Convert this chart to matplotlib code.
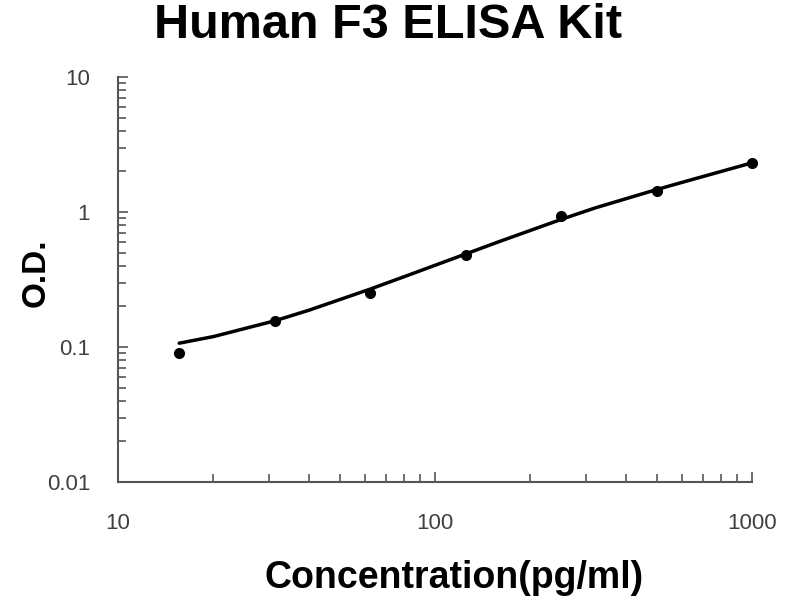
import numpy as np
import matplotlib
matplotlib.use("Agg")
import matplotlib.pyplot as plt
from matplotlib.ticker import LogLocator, FixedFormatter, FixedLocator, NullFormatter

# measured standards (dots)
conc = [15.6, 31.25, 62.5, 125, 250, 500, 1000]
od = [0.090, 0.156, 0.252, 0.484, 0.94, 1.44, 2.30]

# standard curve
curve_conc = [15.6, 20, 31.25, 40, 62.5, 80, 125, 160, 250, 320, 500, 640, 1000]
curve_od = [0.1067, 0.1194, 0.1563, 0.1871, 0.2685, 0.3319, 0.4887, 0.6053,
            0.881, 1.0715, 1.4655, 1.7258, 2.312]

x_ticks = [10, 100, 1000]
x_labels = ['10', '100', '1000']
y_ticks = [0.01, 0.1, 1, 10]
y_labels = ['0.01', '0.1', '1', '10']

fig = plt.figure(figsize=(8, 6), dpi=100)
ax = fig.add_axes([0.1475, 0.1967, 0.7925, 0.675])

ax.plot(curve_conc, curve_od, color='black', lw=2.5, clip_on=False,
        solid_joinstyle='round', solid_capstyle='round')
ax.plot(conc, od, 'o', color='black', ms=7, clip_on=False)

ax.set_xscale('log')
ax.set_yscale('log')
ax.set_xlim(10, 1000)
ax.set_ylim(0.01, 10)

for s in ['top', 'right']:
    ax.spines[s].set_visible(False)
for s in ['left', 'bottom']:
    ax.spines[s].set_color('#555555')
    ax.spines[s].set_linewidth(1.5)

ax.xaxis.set_major_locator(FixedLocator(x_ticks))
ax.xaxis.set_major_formatter(FixedFormatter(x_labels))
ax.yaxis.set_major_locator(FixedLocator(y_ticks))
ax.yaxis.set_major_formatter(FixedFormatter(y_labels))
ax.xaxis.set_minor_locator(LogLocator(base=10, subs=np.arange(2, 10)))
ax.yaxis.set_minor_locator(LogLocator(base=10, subs=np.arange(2, 10)))
ax.xaxis.set_minor_formatter(NullFormatter())
ax.yaxis.set_minor_formatter(NullFormatter())
ax.tick_params(which='both', direction='in', color='#555555', width=1.2,
               labelsize=16, labelcolor='#404040')
ax.tick_params(which='major', length=7)
ax.tick_params(which='minor', length=6)
ax.tick_params(axis='x', which='major', pad=22)
ax.tick_params(axis='y', which='major', pad=20)
for lab in ax.get_xticklabels() + ax.get_yticklabels():
    lab.set_fontfamily('Liberation Sans')

fig.text(0.485, 0.958, 'Human F3 ELISA Kit', ha='center', va='center',
         fontsize=35, fontweight='bold', family='Liberation Sans')
fig.text(0.568, 0.036, 'Concentration(pg/ml)', ha='center', va='center',
         fontsize=27, fontweight='bold', family='Liberation Sans')
fig.text(0.045, 0.545, 'O.D.', ha='center', va='center', rotation=90,
         fontsize=24, fontweight='bold', family='Liberation Sans')

fig.savefig('out.png', dpi=100)
